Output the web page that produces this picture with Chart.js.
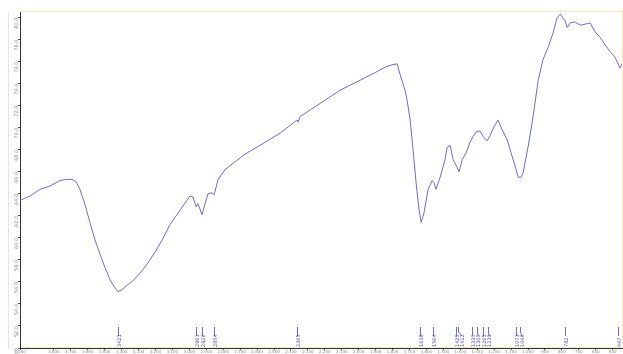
<!DOCTYPE html>
<html>
<head>
<meta charset="utf-8">
<script src="https://cdn.jsdelivr.net/npm/chart.js@4/dist/chart.umd.min.js"></script>
<style>
  html, body { margin: 0; padding: 0; background: #ffffff; }
  #wrap { width: 623px; height: 354px; position: relative; }
</style>
</head>
<body>
<div id="wrap"><canvas id="irChart"></canvas></div>
<script>
// IR spectrum: wavenumber (cm-1) and transmittance (%T)
const wavenumbers = [
    4000, 3941, 3882, 3823, 3764, 3728, 3693, 3669, 3646, 3616, 3587, 3557, 3527, 3498, 3468, 3445,
    3421, 3398, 3368, 3333, 3291, 3250, 3203, 3161, 3114, 3055, 2996, 2978, 2960, 2949, 2925, 2907,
    2890, 2866, 2854, 2830, 2789, 2730, 2671, 2582, 2464, 2364, 2358, 2346, 2228, 2110, 1992, 1903,
    1844, 1803, 1773, 1755, 1726, 1714, 1696, 1679, 1661, 1643, 1631, 1614, 1590, 1566, 1555, 1543,
    1519, 1490, 1478, 1460, 1442, 1419, 1407, 1389, 1366, 1342, 1324, 1307, 1283, 1265, 1242, 1224,
    1200, 1177, 1153, 1123, 1100, 1076, 1058, 1041, 1029, 999, 970, 940, 911, 881, 852, 828,
    810, 781, 769, 751, 722, 692, 663, 633, 604, 574, 544, 515, 486, 456, 445
];
const transmittance = [
    63.4, 63.8, 64.4, 64.7, 65.2, 65.3, 65.3, 65.1, 64.4, 63.0, 61.4, 59.8, 58.5, 57.3, 56.2, 55.6,
    55.1, 55.3, 55.7, 56.1, 56.8, 57.6, 58.7, 59.8, 61.2, 62.5, 63.8, 63.7, 62.8, 63.1, 62.1, 63.1,
    64.0, 64.1, 63.9, 65.3, 66.2, 66.9, 67.6, 68.4, 69.5, 70.7, 70.5, 71.0, 72.2, 73.4, 74.3, 75.0,
    75.5, 75.7, 75.8, 74.8, 73.4, 72.5, 70.7, 68.0, 65.0, 62.5, 61.4, 62.3, 64.4, 65.2, 65.0, 64.4,
    65.5, 67.1, 68.2, 68.4, 67.1, 66.4, 66.0, 67.1, 67.7, 68.7, 69.2, 69.6, 69.7, 69.2, 68.8, 69.3,
    70.1, 70.7, 69.8, 68.9, 67.7, 66.5, 65.5, 65.5, 65.9, 68.3, 71.0, 74.3, 76.2, 77.3, 78.6, 80.0,
    80.3, 79.7, 79.1, 79.5, 79.6, 79.3, 79.4, 79.5, 78.7, 78.2, 77.5, 76.9, 76.4, 75.4, 75.8
];
// peak picks printed along the bottom
const peakLabels = [3421, 2961, 2926, 2854, 2365, 1638, 1564, 1425, 1412, 1330, 1300, 1265, 1239, 1073, 1046, 782, 467];
// x tick labels
const xTickValues = [4000, 3800, 3700, 3600, 3500, 3400, 3300, 3200, 3100, 3000, 2900, 2800, 2700, 2600, 2500,
    2400, 2300, 2200, 2100, 2000, 1900, 1800, 1700, 1600, 1500, 1400, 1300, 1200, 1100, 1000, 900, 800, 700, 600, 500];
const yTickValues = [50, 52, 54, 56, 58, 60, 62, 64, 66, 68, 70, 72, 74, 76, 78, 80];

const lineColor = '#6c6cd0';

// frame around plot area
const framePlugin = {
    id: 'frame',
    beforeDraw(chart) {
        const { ctx, chartArea } = chart;
        ctx.save();
        ctx.strokeStyle = '#f3efbe';
        ctx.lineWidth = 1;
        ctx.strokeRect(chartArea.left + 0.5, chartArea.top - 0.5, chartArea.right - chartArea.left, chartArea.bottom - chartArea.top);
        ctx.strokeStyle = '#dde6f3';
        ctx.beginPath();
        ctx.moveTo(8.5, chartArea.top);
        ctx.lineTo(8.5, chartArea.bottom);
        ctx.stroke();
        ctx.restore();
    }
};

// peak markers: small tick + rotated number
const peakPlugin = {
    id: 'peaks',
    afterDatasetsDraw(chart) {
        const { ctx } = chart;
        const xs = chart.scales.x;
        const bottom = chart.chartArea.bottom;
        ctx.save();
        ctx.strokeStyle = lineColor;
        ctx.fillStyle = '#5050b8';
        ctx.lineWidth = 1;
        ctx.font = '5px "DejaVu Sans"';
        let lastLabelX = -100;
        peakLabels.forEach(w => {
            const px = Math.round(xs.getPixelForValue(w)) + 0.5;
            let lx = px;
            if (lx - lastLabelX < 5.5) lx = lastLabelX + 5.5;
            lastLabelX = lx;
            ctx.beginPath();
            ctx.moveTo(px, bottom - 21);
            ctx.lineTo(px, bottom - 16);
            ctx.lineTo(lx, bottom - 12);
            ctx.stroke();
            ctx.save();
            ctx.translate(lx + 2, bottom - 1);
            ctx.rotate(-Math.PI / 2);
            ctx.fillText(String(w), 0, 0);
            ctx.restore();
        });
        ctx.restore();
    }
};

new Chart(document.getElementById('irChart'), {
    type: 'line',
    data: {
        datasets: [{
            label: '%T',
            data: wavenumbers.map((w, i) => ({ x: w, y: transmittance[i] })),
            borderColor: lineColor,
            borderWidth: 1,
            pointRadius: 0,
            tension: 0,
            fill: false
        }]
    },
    options: {
        responsive: true,
        maintainAspectRatio: false,
        animation: false,
        layout: { padding: { top: 12, right: 1, left: 0, bottom: 0 } },
        scales: {
            x: {
                type: 'linear',
                reverse: true,
                min: 445,
                max: 4000,
                afterBuildTicks: s => { s.ticks = xTickValues.map(v => ({ value: v })); },
                afterFit: s => { s.height = 6; },
                ticks: {
                    color: '#888888',
                    font: { size: 4, family: 'DejaVu Sans' },
                    padding: 0,
                    maxRotation: 0,
                    minRotation: 0,
                    autoSkip: false
                },
                grid: { drawOnChartArea: false, tickLength: 2, color: '#555555' },
                border: { color: '#333333', width: 1 }
            },
            y: {
                type: 'linear',
                min: 50,
                max: 80.5,
                afterBuildTicks: s => { s.ticks = yTickValues.map(v => ({ value: v })); },
                afterFit: s => { s.width = 20; },
                ticks: {
                    color: '#888888',
                    font: { size: 5, family: 'DejaVu Sans' },
                    padding: 1,
                    minRotation: 90,
                    maxRotation: 90,
                    callback: v => v.toFixed(1)
                },
                grid: { drawOnChartArea: false, tickLength: 2, color: '#555555' },
                border: { color: '#333333', width: 1 }
            }
        },
        plugins: {
            legend: { display: false },
            tooltip: { enabled: false }
        }
    },
    plugins: [framePlugin, peakPlugin]
});
</script>
</body>
</html>
